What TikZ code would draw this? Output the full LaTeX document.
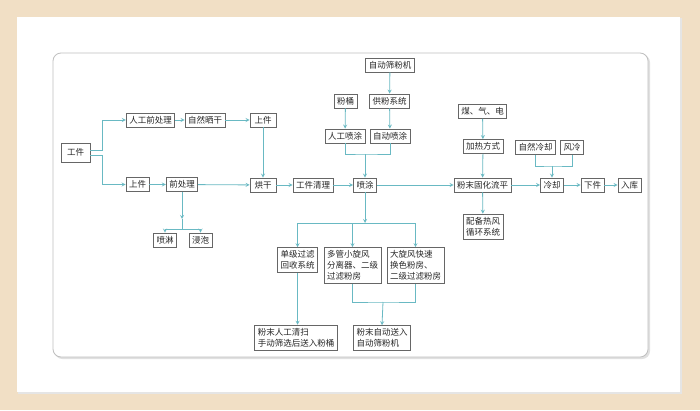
\documentclass[tikz,border=0pt]{standalone}
\usepackage{fontspec}
\newfontfamily\cjk{Noto Sans CJK SC}
\usetikzlibrary{arrows,shapes}
\definecolor{frameclr}{RGB}{241,223,197}
\definecolor{lineclr}{RGB}{105,185,195}
\tikzset{
    box/.style={draw=black!60, line width=0.7pt, fill=white, inner xsep=3pt, inner ysep=1.5pt, minimum height=14pt, font=\cjk\fontsize{8.5}{11}\selectfont, text=black!85, align=left},
    boxm/.style={inner ysep=3pt},
    link/.style={draw=lineclr, line width=0.8pt},
    flow/.style={link, -stealth},
}
\begin{document}
\begin{tikzpicture}[x=1pt,y=-1pt]
            \useasboundingbox (0,0) rectangle (700,410);
            \fill[frameclr] (0,0) rectangle (700,410);
            \fill[black!10] (18,18) rectangle (682,394);
            \fill[white] (17,17) rectangle (680,392);
            \fill[black!12, rounded corners=8pt] (54.5,54.5) rectangle (650,359);
            \draw[black!25, fill=white, rounded corners=8pt, line width=0.8pt] (53,53) rectangle (648,357);
            \node[box, minimum width=29pt, minimum height=19pt] (gj) at (75.5,152.5) {工件};
            \node[box] (rgqcl) at (150.5,120) {人工前处理};
            \node[box] (zrsg) at (205,120) {自然晒干};
            \node[box, minimum width=26pt] (sj1) at (263,120) {上件};
            \node[box] (sj2) at (137.5,184.5) {上件};
            \node[box] (qcl) at (182,184.5) {前处理};
            \node[box, minimum width=26pt] (hg) at (263,185) {烘干};
            \node[box] (gjql) at (313,185) {工件清理};
            \node[box] (pl) at (165,240) {喷淋};
            \node[box] (jp) at (200.5,240) {浸泡};
            \node[box] (zdsfj) at (390,65) {自动筛粉机};
            \node[box] (ft) at (345.5,101) {粉桶};
            \node[box] (gfxt) at (389.5,101) {供粉系统};
            \node[box] (rgpt) at (345,136) {人工喷涂};
            \node[box] (zdpt) at (390,136) {自动喷涂};
            \node[box] (pt) at (365,185) {喷涂};
            \node[box] (mqd) at (482.5,111.5) {煤、气、电};
            \node[box] (jrfs) at (483,146.5) {加热方式};
            \node[box] (ghlp) at (482.5,185) {粉末固化流平};
            \node[box, boxm] (rfxt) at (483,226.5) {配备热风\\循环系统};
            \node[box] (zrlq) at (535.5,147.5) {自然冷却};
            \node[box] (fl) at (572,147.5) {风冷};
            \node[box] (lq) at (552,185) {冷却};
            \node[box] (xj) at (592.5,185) {下件};
            \node[box] (rk) at (629.5,185) {入库};
            \node[box, boxm] (djgl) at (297.5,260) {单级过滤\\回收系统};
            \node[box, boxm] (dgxf) at (352.5,265.5) {多管小旋风\\分离器、二级\\过滤粉房};
            \node[box, boxm] (dxf) at (415.5,265.5) {大旋风快速\\换色粉房、\\二级过滤粉房};
            \node[box, boxm] (fmrg) at (296,337.5) {粉末人工清扫\\手动筛选后送入粉桶};
            \node[box, boxm] (fmzd) at (382,338) {粉末自动送入\\自动筛粉机};
            \coordinate (qmid) at (182,219);
            \coordinate (qsplit) at (182,229);
            \coordinate (pmerge) at (365,154);
            \coordinate (psplit) at (365,223);
            \coordinate (lmerge) at (552,166);
            \coordinate (zmerge) at (383,302);
            \draw[flow] ([yshift=2.5pt]gj.east) -- ++(12,0) |- (rgqcl.west);
            \draw[flow] ([yshift=-2.5pt]gj.east) -- ++(12,0) |- (sj2.west);
            \draw[flow] (rgqcl) -- (zrsg);
            \draw[flow] (zrsg) -- (sj1);
            \draw[flow] (sj1) -- (hg);
            \draw[flow] (sj2) -- (qcl);
            \draw[flow] (qcl) -- (hg);
            \draw[flow] (hg) -- (gjql);
            \draw[flow] (gjql) -- (pt);
            \draw[flow] (qcl.south) -- (qmid);
            \draw[link] (qmid) -- (qsplit);
            \draw[flow] (qsplit) -| (pl.north);
            \draw[flow] (qsplit) -| (jp.north);
            \draw[flow] (zdsfj) -- (gfxt);
            \draw[flow] (ft) -- (rgpt);
            \draw[flow] (gfxt) -- (zdpt);
            \draw[link] (rgpt.south) |- (pmerge) -| (zdpt.south);
            \draw[flow] (pmerge) -- (pt.north);
            \draw[flow] (pt) -- (ghlp);
            \draw[flow] (mqd) -- (jrfs);
            \draw[flow] (jrfs) -- (ghlp);
            \draw[flow] (ghlp) -- (rfxt);
            \draw[flow] (ghlp) -- (lq);
            \draw[link] (zrlq.south) |- (lmerge) -| (fl.south);
            \draw[flow] (lmerge) -- (lq.north);
            \draw[flow] (lq) -- (xj);
            \draw[flow] (xj) -- (rk);
            \draw[flow] (pt.south) -- (psplit);
            \draw[flow] (psplit) -| (djgl.north);
            \draw[flow] (psplit) -| (dgxf.north);
            \draw[flow] (psplit) -| (dxf.north);
            \draw[flow] (djgl.south) -- (djgl.south |- fmrg.north);
            \draw[link] (dgxf.south) |- (zmerge) -| (dxf.south);
            \draw[flow] (zmerge) -- (fmzd.north);
        \end{tikzpicture}
\end{document}
